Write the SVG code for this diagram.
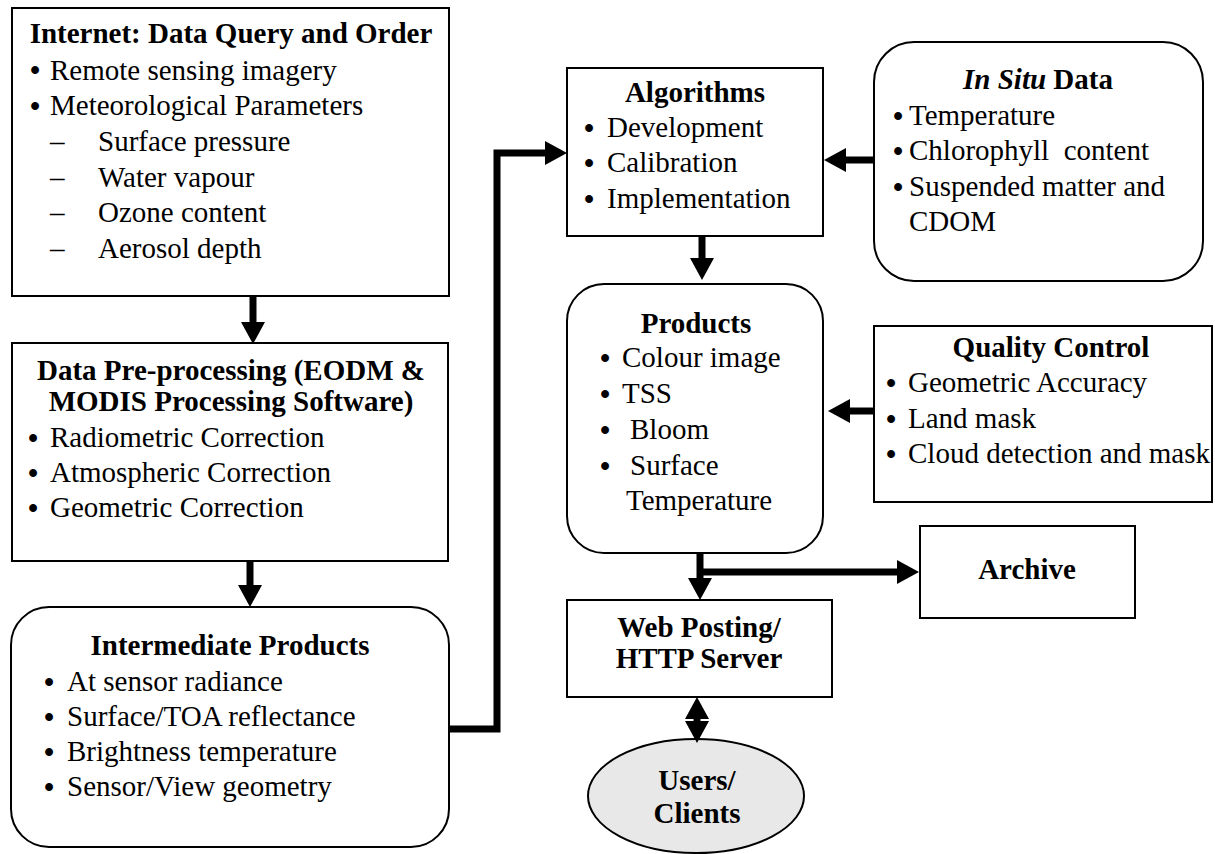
<svg xmlns="http://www.w3.org/2000/svg" width="1215" height="854" viewBox="0 0 1215 854">
<style>
  .box { fill: #ffffff; stroke: #000000; stroke-width: 2; }
  .ell { fill: #e8e8e8; stroke: #000000; stroke-width: 2; }
  text { font-family: "Liberation Serif", "Times New Roman", serif; font-size: 29px; fill: #000000; }
  .t { font-weight: bold; text-anchor: middle; }
  .bi { font-style: italic; }
  .b { text-anchor: middle; font-weight: bold; }
  .conn { fill: none; stroke: #000000; stroke-width: 7; stroke-linejoin: miter; }
</style>
<defs>
  <marker id="ah" viewBox="0 0 22 24" refX="0" refY="12" markerWidth="22" markerHeight="24" markerUnits="userSpaceOnUse" orient="auto-start-reverse">
    <path d="M0,0 L22,12 L0,24 Z" fill="#000000"/>
  </marker>
</defs>
<rect width="1215" height="854" fill="#ffffff"/>

<g id="internet">
  <rect class="box" x="12" y="8" width="437" height="288"/>
  <text class="t" x="231" y="43">Internet: Data Query and Order</text>
  <text class="b" x="35" y="80">•</text>
  <text x="50" y="79.5">Remote sensing imagery</text>
  <text class="b" x="35" y="115.5">•</text>
  <text x="50" y="115">Meteorological Parameters</text>
  <text x="50" y="150.5">–</text>
  <text x="98" y="150.5">Surface pressure</text>
  <text x="50" y="186.5">–</text>
  <text x="98" y="186.5">Water vapour</text>
  <text x="50" y="222">–</text>
  <text x="98" y="222">Ozone content</text>
  <text x="50" y="258">–</text>
  <text x="98" y="258">Aerosol depth</text>
</g>

<g id="preprocessing">
  <rect class="box" x="12" y="343" width="436" height="218"/>
  <text class="t" x="231" y="380">Data Pre-processing (EODM &amp;</text>
  <text class="t" x="231" y="411">MODIS Processing Software)</text>
  <text class="b" x="33" y="447.5">•</text>
  <text x="50" y="447">Radiometric Correction</text>
  <text class="b" x="33" y="482.5">•</text>
  <text x="50" y="482">Atmospheric Correction</text>
  <text class="b" x="33" y="517.5">•</text>
  <text x="50" y="517">Geometric Correction</text>
</g>

<g id="intermediate">
  <rect class="box" x="11" y="607" width="438" height="240" rx="38" ry="38"/>
  <text class="t" x="230" y="655">Intermediate Products</text>
  <text class="b" x="49" y="691.5">•</text>
  <text x="67" y="691">At sensor radiance</text>
  <text class="b" x="49" y="726.5">•</text>
  <text x="67" y="726">Surface/TOA reflectance</text>
  <text class="b" x="49" y="761.5">•</text>
  <text x="67" y="761">Brightness temperature</text>
  <text class="b" x="49" y="796.5">•</text>
  <text x="67" y="796">Sensor/View geometry</text>
</g>

<g id="algorithms">
  <rect class="box" x="567" y="68" width="256" height="168"/>
  <text class="t" x="695" y="102">Algorithms</text>
  <text class="b" x="589" y="137.5">•</text>
  <text x="607" y="137">Development</text>
  <text class="b" x="589" y="172.5">•</text>
  <text x="607" y="172">Calibration</text>
  <text class="b" x="589" y="208.5">•</text>
  <text x="607" y="208">Implementation</text>
</g>

<g id="insitu">
  <rect class="box" x="874" y="42" width="329" height="239" rx="40" ry="40"/>
  <text class="t" x="1038" y="89"><tspan class="bi">In Situ</tspan> Data</text>
  <text class="b" x="898" y="125.5">•</text>
  <text x="909" y="125">Temperature</text>
  <text class="b" x="898" y="160.5">•</text>
  <text x="909" y="160" xml:space="preserve">Chlorophyll  content</text>
  <text class="b" x="898" y="196.5">•</text>
  <text x="909" y="196">Suspended matter and</text>
  <text x="909" y="231">CDOM</text>
</g>

<g id="products">
  <rect class="box" x="567" y="284" width="256" height="269" rx="37" ry="37"/>
  <text class="t" x="696" y="333">Products</text>
  <text class="b" x="605" y="367.5">•</text>
  <text x="622" y="367">Colour image</text>
  <text class="b" x="605" y="403.5">•</text>
  <text x="622" y="403">TSS</text>
  <text class="b" x="605" y="439.5">•</text>
  <text x="630" y="439">Bloom</text>
  <text class="b" x="605" y="475.5">•</text>
  <text x="630" y="475">Surface</text>
  <text x="626" y="510">Temperature</text>
</g>

<g id="quality">
  <rect class="box" x="874" y="326" width="338" height="176"/>
  <text class="t" x="1051" y="357">Quality Control</text>
  <text class="b" x="891" y="392.5">•</text>
  <text x="908" y="392">Geometric Accuracy</text>
  <text class="b" x="891" y="428.5">•</text>
  <text x="908" y="428">Land mask</text>
  <text class="b" x="891" y="463.5">•</text>
  <text x="908" y="463">Cloud detection and mask</text>
</g>

<g id="archive">
  <rect class="box" x="920" y="526" width="215" height="92"/>
  <text class="t" x="1027" y="579">Archive</text>
</g>

<g id="webposting">
  <rect class="box" x="567" y="600" width="265" height="97"/>
  <text class="t" x="699" y="637">Web Posting/</text>
  <text class="t" x="699" y="668">HTTP Server</text>
</g>

<g id="users">
  <ellipse class="ell" cx="696" cy="796" rx="108" ry="57"/>
  <text class="t" x="697" y="790">Users/</text>
  <text class="t" x="697" y="823">Clients</text>
</g>

<g id="connectors">
  <path class="conn" d="M253,296 V322" marker-end="url(#ah)"/>
  <path class="conn" d="M250,561 V585" marker-end="url(#ah)"/>
  <path class="conn" d="M449,729 H497 V153 H545" marker-end="url(#ah)"/>
  <path class="conn" d="M874,160 H846" marker-end="url(#ah)"/>
  <path class="conn" d="M702,236 V258" marker-end="url(#ah)"/>
  <path class="conn" d="M874,411 H850" marker-end="url(#ah)"/>
  <path class="conn" d="M700,553 V578" marker-end="url(#ah)"/>
  <path class="conn" d="M700,572 H897" marker-end="url(#ah)"/>
  <path class="conn" d="M697,719 V721" marker-start="url(#ah)" marker-end="url(#ah)"/>
</g>
</svg>
